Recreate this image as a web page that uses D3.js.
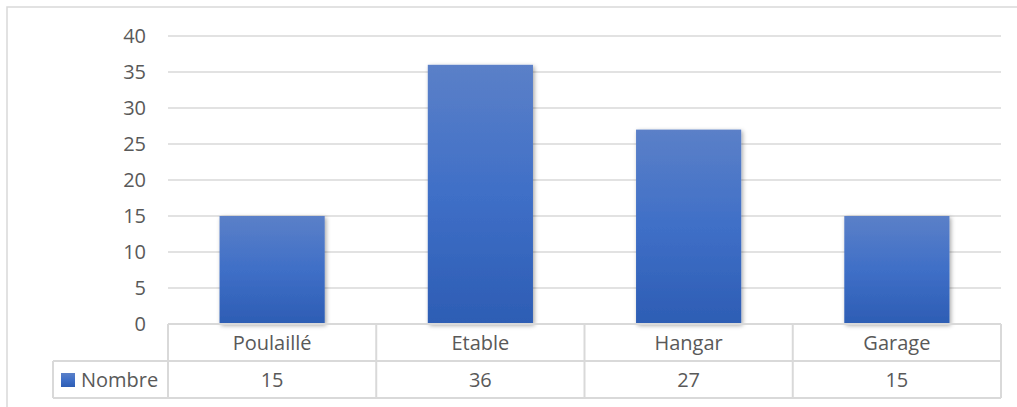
<!DOCTYPE html>
<html>
<head>
<meta charset="utf-8">
<script src="https://cdn.jsdelivr.net/npm/d3@7"></script>
<style>
  html, body { margin: 0; padding: 0; background: #fff; }
  svg { display: block; }
  text { font-family: "Open Sans", sans-serif; fill: #595959; }
</style>
</head>
<body>
<script>
// Building types and counts
const categories = ["Poulaillé", "Etable", "Hangar", "Garage"];
const values = [15, 36, 27, 15];
const seriesName = "Nombre";
const yTicks = [0, 5, 10, 15, 20, 25, 30, 35, 40];

const W = 1017, H = 407;
const plot = { left: 168, right: 1001, top: 36, bottom: 324 };
const row1Bottom = 361, row2Bottom = 398, legendLeft = 53;
const grid = "#d9d9d9";

const svg = d3.select("body").append("svg").attr("width", W).attr("height", H);
const defs = svg.append("defs");

const grad = defs.append("linearGradient").attr("id", "barFill")
  .attr("x1", 0).attr("y1", 0).attr("x2", 0).attr("y2", 1);
grad.append("stop").attr("offset", "0%").attr("stop-color", "#5b80c8");
grad.append("stop").attr("offset", "50%").attr("stop-color", "#3f6fc7");
grad.append("stop").attr("offset", "100%").attr("stop-color", "#2d5db4");

const shadow = defs.append("filter").attr("id", "barShadow")
  .attr("x", "-20%").attr("y", "-10%").attr("width", "140%").attr("height", "125%");
shadow.append("feDropShadow").attr("dx", 1.5).attr("dy", 1.5)
  .attr("stdDeviation", 2).attr("flood-color", "#000").attr("flood-opacity", 0.35);

// Chart area frame (top and left edges)
svg.append("path").attr("d", `M7,${H} V7 H${W}`)
  .attr("fill", "none").attr("stroke", grid).attr("stroke-width", 1.5);

const x = d3.scaleBand().domain(categories).range([plot.left, plot.right]).paddingInner(0).paddingOuter(0);
const y = d3.scaleLinear().domain([0, 40]).range([plot.bottom, plot.top]);

// Horizontal gridlines
svg.append("g").selectAll("line").data(yTicks.filter(d => d > 0)).join("line")
  .attr("x1", plot.left).attr("x2", plot.right)
  .attr("y1", d => y(d)).attr("y2", d => y(d))
  .attr("stroke", grid).attr("stroke-width", 1.5);

// Y axis labels
svg.append("g").selectAll("text").data(yTicks).join("text")
  .attr("x", 146).attr("y", d => y(d)).attr("dy", "0.35em")
  .attr("text-anchor", "end").attr("font-size", 20).text(d => d);

// Bars
const bw = x.bandwidth() * 0.505;
svg.append("g").selectAll("rect").data(values).join("rect")
  .attr("x", (d, i) => x(categories[i]) + (x.bandwidth() - bw) / 2)
  .attr("width", bw)
  .attr("y", d => y(d)).attr("height", d => y(0) - y(d))
  .attr("fill", "url(#barFill)").attr("filter", "url(#barShadow)");

// Data table below the plot
const tbl = svg.append("g").attr("stroke", grid).attr("stroke-width", 2).attr("fill", "none");
tbl.append("line").attr("x1", plot.left).attr("x2", plot.right).attr("y1", plot.bottom).attr("y2", plot.bottom);
tbl.append("line").attr("x1", legendLeft).attr("x2", plot.right).attr("y1", row1Bottom).attr("y2", row1Bottom);
tbl.append("line").attr("x1", legendLeft).attr("x2", plot.right).attr("y1", row2Bottom).attr("y2", row2Bottom);
tbl.append("line").attr("x1", legendLeft).attr("x2", legendLeft).attr("y1", row1Bottom).attr("y2", row2Bottom);
const edges = categories.map(c => x(c)).concat([plot.right]);
tbl.selectAll("line.v").data(edges).join("line").attr("class", "v")
  .attr("x1", d => d).attr("x2", d => d).attr("y1", plot.bottom).attr("y2", row2Bottom);

svg.append("g").selectAll("text").data(categories).join("text")
  .attr("x", d => x(d) + x.bandwidth() / 2).attr("y", (plot.bottom + row1Bottom) / 2)
  .attr("dy", "0.35em").attr("text-anchor", "middle").attr("font-size", 20).text(d => d);

svg.append("g").selectAll("text").data(values).join("text")
  .attr("x", (d, i) => x(categories[i]) + x.bandwidth() / 2).attr("y", (row1Bottom + row2Bottom) / 2)
  .attr("dy", "0.35em").attr("text-anchor", "middle").attr("font-size", 20).text(d => d);

// Legend key in the table's first column
svg.append("rect").attr("x", 61).attr("y", 373).attr("width", 14).attr("height", 14)
  .attr("fill", "url(#barFill)");
svg.append("text").attr("x", 81).attr("y", (row1Bottom + row2Bottom) / 2).attr("dy", "0.35em")
  .attr("font-size", 20).text(seriesName);
</script>
</body>
</html>
